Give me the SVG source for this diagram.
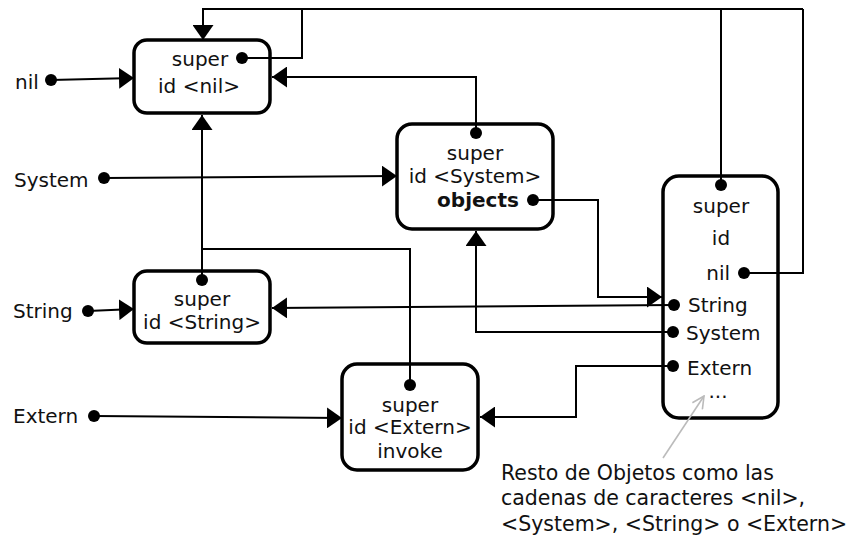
<svg xmlns="http://www.w3.org/2000/svg" width="851" height="543" viewBox="0 0 851 543">
<style>
text{font-family:"DejaVu Sans","Verdana",sans-serif;font-size:20px;fill:#111}
.mid{text-anchor:middle}
.b{font-weight:bold}
.box{fill:#fff;stroke:#000;stroke-width:3.5}
.ln{fill:none;stroke:#000;stroke-width:2}
.arr{marker-end:url(#ah)}
.dot{fill:#000}
.note{font-size:20.5px}
</style>
<defs>
<marker id="ah" markerUnits="userSpaceOnUse" markerWidth="15" markerHeight="21" refX="15" refY="10.5" orient="auto">
<path d="M0,0 L15,10.5 L0,21 Z" fill="#000"/>
</marker>
<marker id="oh" markerUnits="userSpaceOnUse" markerWidth="14" markerHeight="14" refX="13" refY="7" orient="auto">
<path d="M1,1 L13,7 L1,13" fill="none" stroke="#bbb" stroke-width="1.6"/>
</marker>
</defs>

<g id="node-nil">
<rect class="box" x="134" y="40" width="136" height="73" rx="13"/>
<text class="mid" x="200" y="66">super</text>
<text class="mid" x="199" y="93">id &lt;nil&gt;</text>
<circle class="dot" cx="242" cy="58" r="6"/>
</g>

<g id="node-system">
<rect class="box" x="397" y="124" width="156" height="105" rx="15"/>
<text class="mid" x="475" y="160">super</text>
<text class="mid" x="475" y="183">id &lt;System&gt;</text>
<text class="mid b" x="478" y="207">objects</text>
<circle class="dot" cx="476" cy="133" r="6"/>
<circle class="dot" cx="533" cy="200" r="6"/>
</g>

<g id="node-string">
<rect class="box" x="134" y="271" width="136" height="72" rx="13"/>
<text class="mid" x="202" y="306">super</text>
<text class="mid" x="202" y="329">id &lt;String&gt;</text>
<circle class="dot" cx="202" cy="280" r="6"/>
</g>

<g id="node-extern">
<rect class="box" x="342" y="364" width="136" height="106" rx="15"/>
<text class="mid" x="410" y="412">super</text>
<text class="mid" x="410" y="434">id &lt;Extern&gt;</text>
<text class="mid" x="410" y="458">invoke</text>
<circle class="dot" cx="410" cy="385" r="6"/>
</g>

<g id="node-objects">
<rect class="box" x="663" y="176" width="115" height="242" rx="16"/>
<text class="mid" x="721" y="213">super</text>
<text class="mid" x="721" y="245">id</text>
<text x="730" y="280" style="text-anchor:end">nil</text>
<text x="688" y="312">String</text>
<text x="686" y="340">System</text>
<text x="687" y="375">Extern</text>
<text class="mid" x="718" y="398">...</text>
<circle class="dot" cx="721" cy="185" r="6"/>
<circle class="dot" cx="744" cy="273" r="6"/>
<circle class="dot" cx="674" cy="305" r="6"/>
<circle class="dot" cx="673" cy="332" r="6"/>
<circle class="dot" cx="673" cy="366" r="6"/>
</g>

<g id="label-nil">
<text x="15" y="89">nil</text>
<circle class="dot" cx="51" cy="80" r="6"/>
</g>
<g id="label-system">
<text x="14" y="187">System</text>
<circle class="dot" cx="104" cy="178" r="6"/>
</g>
<g id="label-string">
<text x="13" y="318">String</text>
<circle class="dot" cx="88" cy="311" r="6"/>
</g>
<g id="label-extern">
<text x="13" y="423">Extern</text>
<circle class="dot" cx="94" cy="416" r="6"/>
</g>

<g id="note">
<text class="note" x="501" y="480">Resto de Objetos como las</text>
<text class="note" x="501" y="505">cadenas de caracteres &lt;nil&gt;,</text>
<text class="note" x="501" y="531">&lt;System&gt;, &lt;String&gt; o &lt;Extern&gt;</text>
</g>

<g id="connectors">
<path class="ln arr" d="M51,80 L134,78"/>
<path class="ln arr" d="M104,178 L397,176"/>
<path class="ln arr" d="M88,311 L134,309"/>
<path class="ln arr" d="M94,416 L342,418"/>
<path class="ln arr" d="M803,9 H203 V40"/>
<path class="ln" d="M242,58 H302 V9"/>
<path class="ln" d="M721,185 V9"/>
<path class="ln" d="M744,273 H803 V9"/>
<path class="ln arr" d="M476,133 V77 H272"/>
<path class="ln arr" d="M202,280 V115"/>
<path class="ln" d="M410,385 V249 H202"/>
<path class="ln arr" d="M533,200 H598 V297 H662"/>
<path class="ln arr" d="M674,305 L272,308"/>
<path class="ln arr" d="M673,332 H476 V231"/>
<path class="ln arr" d="M673,366 H576 V417 H480"/>
<path d="M663,458 L704,396" fill="none" stroke="#bbb" stroke-width="1.6" marker-end="url(#oh)"/>
</g>
</svg>
